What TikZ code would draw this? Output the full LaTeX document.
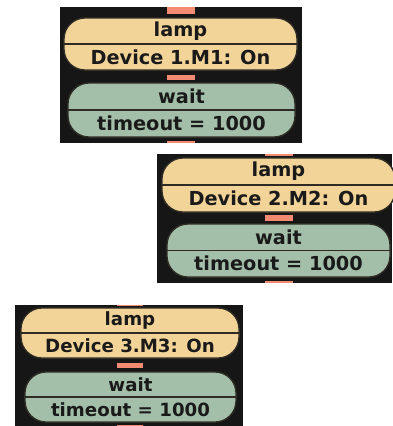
\documentclass[tikz,border=0pt]{standalone}
\usepackage{fontspec}
\setmainfont{DejaVu Sans}
\definecolor{panelblack}{HTML}{161616}
\definecolor{lampfill}{HTML}{F3D498}
\definecolor{waitfill}{HTML}{A4BFA9}
\definecolor{edgecol}{HTML}{2E2B24}
\definecolor{barcol}{HTML}{F28B72}
\definecolor{inkcol}{HTML}{1A1A1A}
\tikzset{
  panelbg/.style={fill=panelblack},
  blockbase/.style={draw=edgecol, line width=1.3pt, rounded corners=21pt,
    inner sep=0pt, rectangle},
  lampbox/.style={blockbase, fill=lampfill},
  waitbox/.style={blockbase, fill=waitfill},
  divider/.style={draw=edgecol, line width=1.6pt},
  linkbar/.style={fill=barcol},
  lbl/.style={text=inkcol, inner sep=0pt, font=\bfseries\fontsize{19.3}{19.3}\selectfont},
  lblsmall/.style={text=inkcol, inner sep=0pt, font=\bfseries\fontsize{18.2}{18.2}\selectfont},
}
\begin{document}
\begin{tikzpicture}[x=1pt, y=-1pt]
  \useasboundingbox (0,0) rectangle (392,426);
  \fill[white] (0,0) rectangle (392,426);

  % ---------- first pair ----------
  \fill[panelbg] (60,7) rectangle (302,143);
  \coordinate (top1) at (181,7);
  \coordinate (end1) at (181,143);
  \node[lampbox, minimum width=233pt, minimum height=52pt] (lamp1) at (180.5,44) {};
  \node[waitbox, minimum width=227pt, minimum height=54pt] (wait1) at (181.5,110) {};
  \fill[linkbar] ([xshift=-14pt]top1) rectangle ([xshift=14pt,yshift=3pt]lamp1.north);
  \fill[linkbar] ([xshift=-14pt,yshift=-4pt]lamp1.south -| top1) rectangle ([xshift=14pt,yshift=2pt]wait1.north -| top1);
  \fill[linkbar] ([xshift=-14pt,yshift=-3pt]wait1.south -| top1) rectangle ([xshift=14pt]end1);
  \node[lampbox, minimum width=233pt, minimum height=52pt] at (lamp1) {};
  \node[waitbox, minimum width=227pt, minimum height=54pt] at (wait1) {};
  \draw[divider] (lamp1.west) -- (lamp1.east);
  \draw[divider] (wait1.west) -- (wait1.east);
  \node[lbl] (lamp1a) at ([yshift=13pt]lamp1.center) {lamp};
  \node[lbl] (lamp1b) at ([yshift=-13pt]lamp1.center) {Device 1.M1: On};
  \node[lbl] (wait1a) at ([yshift=13.5pt]wait1.center) {wait};
  \node[lbl] (wait1b) at ([yshift=-13.5pt]wait1.center) {timeout = 1000};

  % ---------- second pair ----------
  \fill[panelbg] (157,154) rectangle (392,283);
  \coordinate (top2) at (279,154);
  \coordinate (end2) at (279,283);
  \node[lampbox, minimum width=233pt, minimum height=54pt] (lamp2) at (278.5,185) {};
  \node[waitbox, minimum width=223pt, minimum height=53pt] (wait2) at (278.5,250.5) {};
  \fill[linkbar] ([xshift=-14pt]top2) rectangle ([xshift=14pt,yshift=1pt]lamp2.north -| top2);
  \fill[linkbar] ([xshift=-14pt,yshift=-2pt]lamp2.south -| top2) rectangle ([xshift=14pt,yshift=2pt]wait2.north -| top2);
  \fill[linkbar] ([xshift=-14pt,yshift=-3pt]wait2.south -| top2) rectangle ([xshift=14pt]end2);
  \node[lampbox, minimum width=233pt, minimum height=54pt] at (lamp2) {};
  \node[waitbox, minimum width=223pt, minimum height=53pt] at (wait2) {};
  \draw[divider] (lamp2.west) -- (lamp2.east);
  \draw[divider] (wait2.west) -- (wait2.east);
  \node[lbl] (lamp2a) at ([yshift=13.5pt]lamp2.center) {lamp};
  \node[lbl] (lamp2b) at ([yshift=-13.5pt]lamp2.center) {Device 2.M2: On};
  \node[lbl] (wait2a) at ([yshift=13pt]wait2.center) {wait};
  \node[lbl] (wait2b) at ([yshift=-13pt]wait2.center) {timeout = 1000};

  % ---------- third pair ----------
  \fill[panelbg] (15,305) rectangle (243,426);
  \coordinate (top3) at (130,305);
  \coordinate (end3) at (130,426);
  \node[lampbox, minimum width=218pt, minimum height=50pt] (lamp3) at (130,333) {};
  \node[waitbox, minimum width=211pt, minimum height=50pt] (wait3) at (130.5,397) {};
  \fill[linkbar] ([xshift=-13pt]top3) rectangle ([xshift=13pt,yshift=1pt]lamp3.north -| top3);
  \fill[linkbar] ([xshift=-13pt,yshift=-4pt]lamp3.south -| top3) rectangle ([xshift=13pt,yshift=3pt]wait3.north -| top3);
  \fill[linkbar] ([xshift=-13pt,yshift=-2pt]wait3.south -| top3) rectangle ([xshift=13pt]end3);
  \node[lampbox, minimum width=218pt, minimum height=50pt] at (lamp3) {};
  \node[waitbox, minimum width=211pt, minimum height=50pt] at (wait3) {};
  \draw[divider] (lamp3.west) -- (lamp3.east);
  \draw[divider] (wait3.west) -- (wait3.east);
  \node[lblsmall] (lamp3a) at ([yshift=12.5pt]lamp3.center) {lamp};
  \node[lblsmall] (lamp3b) at ([yshift=-12.5pt]lamp3.center) {Device 3.M3: On};
  \node[lblsmall] (wait3a) at ([yshift=12.5pt]wait3.center) {wait};
  \node[lblsmall] (wait3b) at ([yshift=-12.5pt]wait3.center) {timeout = 1000};
\end{tikzpicture}
\end{document}
